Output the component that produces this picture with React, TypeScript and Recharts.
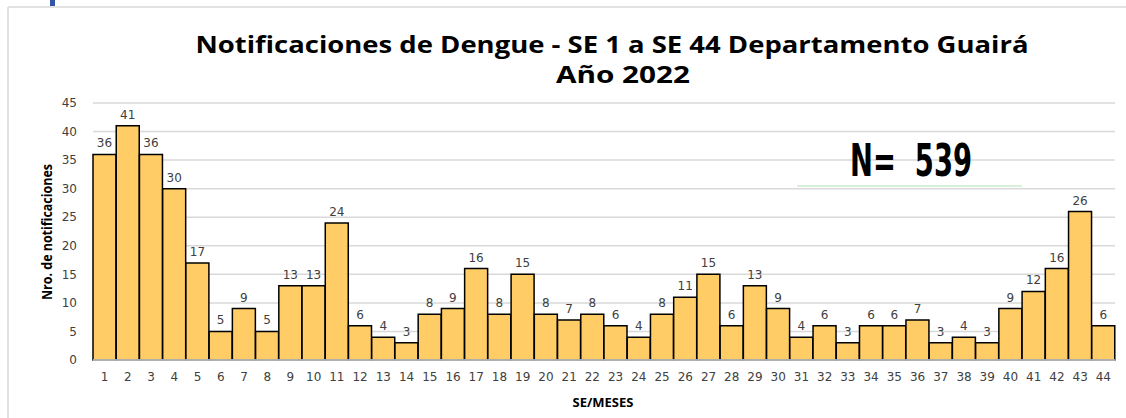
import React from 'react';
import { BarChart, Bar, XAxis, YAxis, CartesianGrid, LabelList } from 'recharts';

const weeks = [
  '1', '2', '3', '4', '5', '6', '7', '8', '9', '10', '11',
  '12', '13', '14', '15', '16', '17', '18', '19', '20', '21', '22',
  '23', '24', '25', '26', '27', '28', '29', '30', '31', '32', '33',
  '34', '35', '36', '37', '38', '39', '40', '41', '42', '43', '44',
];

const cases = [
  36, 41, 36, 30, 17, 5, 9, 5, 13, 13, 24,
  6, 4, 3, 8, 9, 16, 8, 15, 8, 7, 8,
  6, 4, 8, 11, 15, 6, 13, 9, 4, 6, 3,
  6, 6, 7, 3, 4, 3, 9, 12, 16, 26, 6,
];

const yTicks = [0, 5, 10, 15, 20, 25, 30, 35, 40, 45];

const data = weeks.map((se, i) => ({ se, casos: cases[i] }));

const tickFont = { fontFamily: 'DejaVu Sans', fontSize: 12, fill: '#404040' };

export default function App() {
  return (
    <div style={{ position: 'absolute', left: 0, top: 0, width: 1126, height: 418, background: '#fff' }}>
      <BarChart
        width={1126}
        height={418}
        data={data}
        margin={{ top: 103, right: 11, left: 0, bottom: 0 }}
        barCategoryGap={0}
      >
        <CartesianGrid vertical={false} stroke="#d9d9d9" strokeWidth={1.5} />
        <XAxis
          dataKey="se"
          height={58}
          tickSize={0}
          tickMargin={12}
          interval={0}
          axisLine={{ stroke: '#d9d9d9', strokeWidth: 1.5 }}
          tick={tickFont}
        />
        <YAxis
          width={93}
          domain={[0, 45]}
          ticks={yTicks}
          tickSize={0}
          tickMargin={16}
          axisLine={false}
          tick={tickFont}
        />
        <Bar dataKey="casos" fill="#FFCC66" stroke="#000" strokeWidth={1.5} isAnimationActive={false}>
          <LabelList dataKey="casos" position="top" offset={7} style={tickFont} />
        </Bar>
      </BarChart>
      <svg
        width={1126}
        height={418}
        style={{ position: 'absolute', left: 0, top: 0, pointerEvents: 'none' }}
      >
        <rect x={50} y={0} width={5} height={6} fill="#2f55a4" />
        <line x1={8} y1={7} x2={1126} y2={7} stroke="#d9d9d9" strokeWidth={1.5} />
        <line x1={8} y1={7} x2={8} y2={418} stroke="#d9d9d9" strokeWidth={1.5} />
        <text
          x={612}
          y={53}
          textAnchor="middle"
          fontFamily="Open Sans"
          fontWeight="bold"
          fontSize={24}
          fill="#000"
          textLength={833}
          lengthAdjust="spacingAndGlyphs"
        >
          Notificaciones de Dengue - SE 1 a SE 44 Departamento Guairá
        </text>
        <text
          x={623}
          y={83}
          textAnchor="middle"
          fontFamily="Open Sans"
          fontWeight="bold"
          fontSize={24}
          fill="#000"
          textLength={134}
          lengthAdjust="spacingAndGlyphs"
        >
          Año 2022
        </text>
        <text
          x={850}
          y={176}
          fontFamily="DejaVu Sans Condensed, DejaVu Sans"
          fontWeight="bold"
          fontSize={44}
          fill="#000"
          textLength={122}
          lengthAdjust="spacingAndGlyphs"
          style={{ whiteSpace: 'pre' }}
        >
          {'N=  539'}
        </text>
        <line x1={797} y1={186} x2={1022} y2={186} stroke="#d6f0d9" strokeWidth={2} />
        <text
          transform="translate(52,232) rotate(-90)"
          textAnchor="middle"
          fontFamily="Open Sans"
          fontWeight="bold"
          fontSize={14}
          fill="#000"
          textLength={136}
          lengthAdjust="spacingAndGlyphs"
        >
          Nro. de notificaciones
        </text>
        <text
          x={603}
          y={407}
          textAnchor="middle"
          fontFamily="Open Sans"
          fontWeight="bold"
          fontSize={13}
          fill="#000"
        >
          SE/MESES
        </text>
      </svg>
    </div>
  );
}
